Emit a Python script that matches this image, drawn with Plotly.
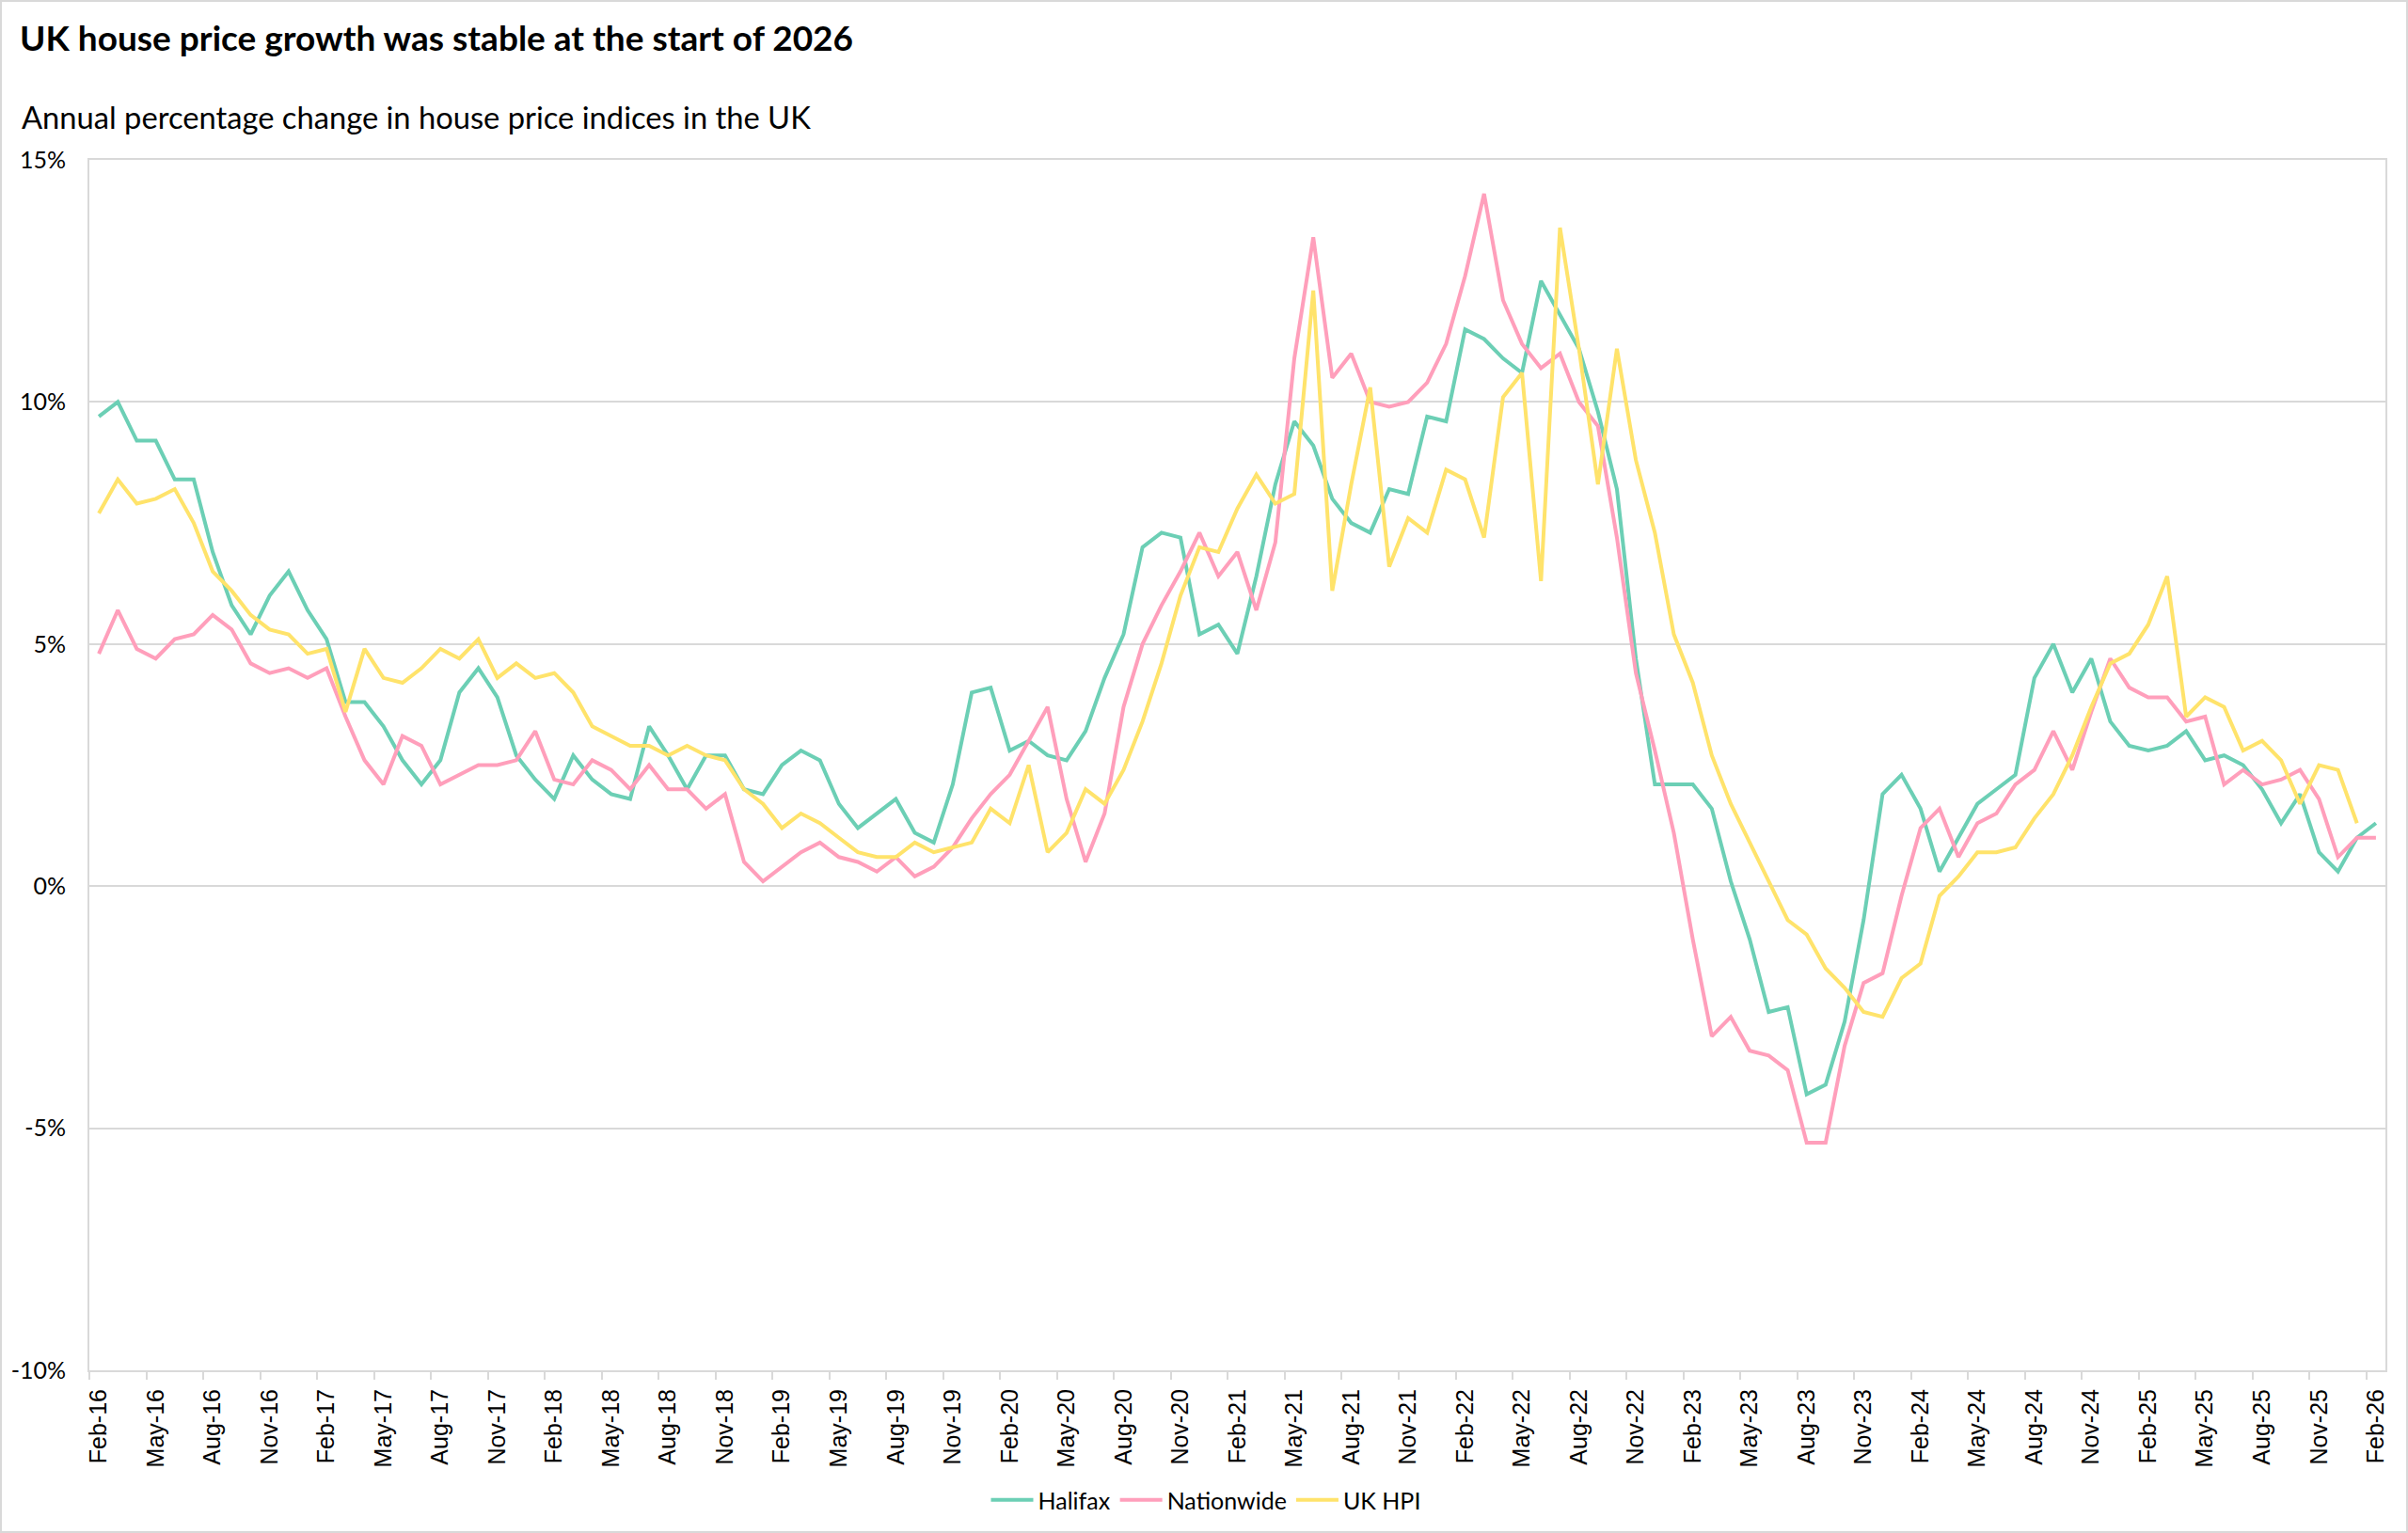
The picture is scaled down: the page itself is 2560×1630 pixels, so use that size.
import pandas as pd
import plotly.graph_objects as go

# Monthly categories Feb-16 .. Feb-26
months = pd.date_range("2016-02-01", periods=121, freq="MS").strftime("%b-%y").tolist()

halifax = [
    9.7, 10.0, 9.2, 9.2, 8.4, 8.4, 6.9, 5.8, 5.2, 6.0, 6.5, 5.7, 5.1, 3.8, 3.8, 3.3, 2.6, 2.1, 2.6, 4.0, 4.5,
    3.9, 2.7, 2.2, 1.8, 2.7, 2.2, 1.9, 1.8, 3.3, 2.7, 2.0, 2.7, 2.7, 2.0, 1.9, 2.5, 2.8, 2.6, 1.7, 1.2,
    1.5, 1.8, 1.1, 0.9, 2.1, 4.0, 4.1, 2.8, 3.0, 2.7, 2.6, 3.2, 4.3, 5.2, 7.0, 7.3, 7.2, 5.2, 5.4, 4.8,
    6.4, 8.3, 9.6, 9.1, 8.0, 7.5, 7.3, 8.2, 8.1, 9.7, 9.6, 11.5, 11.3, 10.9, 10.6, 12.5, 11.8, 11.1, 9.8, 8.2,
    4.7, 2.1, 2.1, 2.1, 1.6, 0.1, -1.1, -2.6, -2.5, -4.3, -4.1, -2.8, -0.7, 1.9, 2.3, 1.6, 0.3, 1.0, 1.7, 2.0,
    2.3, 4.3, 5.0, 4.0, 4.7, 3.4, 2.9, 2.8, 2.9, 3.2, 2.6, 2.7, 2.5, 2.0, 1.3, 1.9, 0.7, 0.3, 1.0, 1.3,
]

nationwide = [
    4.8, 5.7, 4.9, 4.7, 5.1, 5.2, 5.6, 5.3, 4.6, 4.4, 4.5, 4.3, 4.5, 3.5, 2.6, 2.1, 3.1, 2.9, 2.1, 2.3, 2.5,
    2.5, 2.6, 3.2, 2.2, 2.1, 2.6, 2.4, 2.0, 2.5, 2.0, 2.0, 1.6, 1.9, 0.5, 0.1, 0.4, 0.7, 0.9, 0.6, 0.5,
    0.3, 0.6, 0.2, 0.4, 0.8, 1.4, 1.9, 2.3, 3.0, 3.7, 1.8, 0.5, 1.5, 3.7, 5.0, 5.8, 6.5, 7.3, 6.4, 6.9,
    5.7, 7.1, 10.9, 13.4, 10.5, 11.0, 10.0, 9.9, 10.0, 10.4, 11.2, 12.6, 14.3, 12.1, 11.2, 10.7, 11.0, 10.0, 9.5, 7.2,
    4.4, 2.8, 1.1, -1.1, -3.1, -2.7, -3.4, -3.5, -3.8, -5.3, -5.3, -3.3, -2.0, -1.8, -0.2, 1.2, 1.6, 0.6, 1.3, 1.5,
    2.1, 2.4, 3.2, 2.4, 3.6, 4.7, 4.1, 3.9, 3.9, 3.4, 3.5, 2.1, 2.4, 2.1, 2.2, 2.4, 1.8, 0.6, 1.0, 1.0,
]

uk_hpi = [
    7.7, 8.4, 7.9, 8.0, 8.2, 7.5, 6.5, 6.1, 5.6, 5.3, 5.2, 4.8, 4.9, 3.6, 4.9, 4.3, 4.2, 4.5, 4.9, 4.7, 5.1,
    4.3, 4.6, 4.3, 4.4, 4.0, 3.3, 3.1, 2.9, 2.9, 2.7, 2.9, 2.7, 2.6, 2.0, 1.7, 1.2, 1.5, 1.3, 1.0, 0.7,
    0.6, 0.6, 0.9, 0.7, 0.8, 0.9, 1.6, 1.3, 2.5, 0.7, 1.1, 2.0, 1.7, 2.4, 3.4, 4.6, 6.0, 7.0, 6.9, 7.8,
    8.5, 7.9, 8.1, 12.3, 6.1, 8.3, 10.3, 6.6, 7.6, 7.3, 8.6, 8.4, 7.2, 10.1, 10.6, 6.3, 13.6, 11.1, 8.3, 11.1,
    8.8, 7.3, 5.2, 4.2, 2.7, 1.7, 0.9, 0.1, -0.7, -1.0, -1.7, -2.1, -2.6, -2.7, -1.9, -1.6, -0.2, 0.2, 0.7, 0.7,
    0.8, 1.4, 1.9, 2.7, 3.7, 4.6, 4.8, 5.4, 6.4, 3.5, 3.9, 3.7, 2.8, 3.0, 2.6, 1.7, 2.5, 2.4, 1.3, None,
]

series_names = ["Halifax", "Nationwide", "UK HPI"]
series_colors = ["#6ccfb5", "#ff9fbb", "#ffe36b"]
y_tick_vals = [-10, -5, 0, 5, 10, 15]
y_tick_text = ["-10%", "-5%", "0%", "5%", "10%", "15%"]

W, H = 2560, 1630
ML, MR, MT, MB = 95, 24, 170, 173
PW = W - ML - MR
PH = H - MT - MB
GRID = "#d9d9d9"


def px_to_paper_x(px):
    return (px - ML) / PW


def px_to_paper_y(py):
    return (H - MB - py) / PH


fig = go.Figure()
for name, vals, col in zip(series_names, [halifax, nationwide, uk_hpi], series_colors):
    fig.add_trace(go.Scatter(
        x=months, y=vals, name=name, mode="lines",
        line=dict(color=col, width=4), connectgaps=False,
    ))

fig.update_layout(
    template="none",
    width=W, height=H,
    margin=dict(l=ML, r=MR, t=MT, b=MB, autoexpand=False),
    paper_bgcolor="white", plot_bgcolor="white",
    font=dict(family="Lato", color="#000000", size=24),
    title=dict(
        text="<b>UK house price growth was stable at the start of 2026</b>",
        font=dict(family="Lato", size=37, color="#000000"),
        xref="container", yref="container",
        x=21 / W, xanchor="left", y=1 - 41 / H, yanchor="middle",
    ),
    showlegend=True,
    legend=dict(
        orientation="h",
        x=px_to_paper_x(1282), xanchor="center",
        y=px_to_paper_y(1595), yanchor="middle",
        font=dict(family="Lato", size=25, color="#000000"),
        bgcolor="rgba(0,0,0,0)",
        itemwidth=45,
    ),
    xaxis=dict(
        type="category",
        range=[-0.5, 120.5],
        tickmode="linear", tick0=0, dtick=3,
        tickson="boundaries",
        ticks="outside", ticklen=8, tickwidth=2, tickcolor=GRID,
        tickangle=-90,
        tickfont=dict(family="Liberation Sans", size=25, color="#000000"),
        ticklabelstandoff=8,
        showgrid=False,
        showline=True, mirror=True, linecolor=GRID, linewidth=2,
        automargin=False,
    ),
    yaxis=dict(
        range=[-10, 15],
        tickmode="array", tickvals=y_tick_vals, ticktext=y_tick_text,
        tickfont=dict(family="Lato", size=25, color="#000000"),
        ticks="", ticklabelstandoff=18,
        showgrid=True, gridcolor=GRID, gridwidth=1.5,
        zeroline=False,
        showline=True, mirror=True, linecolor=GRID, linewidth=2,
        automargin=False,
    ),
    annotations=[dict(
        text="Annual percentage change in house price indices in the UK",
        xref="paper", yref="paper",
        x=px_to_paper_x(21), xanchor="left",
        y=px_to_paper_y(124), yanchor="middle",
        showarrow=False,
        font=dict(family="Lato", size=32.7, color="#000000"),
    )],
    shapes=[dict(
        type="rect", xref="paper", yref="paper",
        x0=px_to_paper_x(1), x1=px_to_paper_x(W - 1),
        y0=px_to_paper_y(H - 1), y1=px_to_paper_y(1),
        line=dict(color=GRID, width=2), fillcolor="rgba(0,0,0,0)", layer="below",
    )],
)

fig.write_html(
    "out.html",
    config={"displayModeBar": False},
    post_script="document.body.style.margin='0';document.body.style.overflow='hidden';",
)
